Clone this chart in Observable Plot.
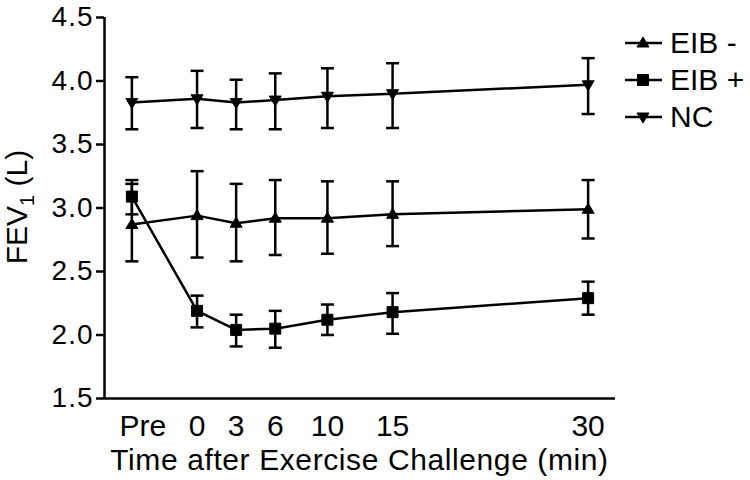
<!DOCTYPE html>
<html><head><meta charset="utf-8">
<script src="https://cdn.jsdelivr.net/npm/d3@7"></script>
<script src="https://cdn.jsdelivr.net/npm/@observablehq/plot@0.6"></script>
<style>
body{margin:0;background:#fff;}
#wrap{position:relative;width:750px;height:480px;font-family:"Liberation Sans",Arial,sans-serif;color:#000;}
#legend{position:absolute;left:623px;top:24px;}
.row{display:flex;align-items:center;height:37px;font-size:30px;line-height:37px;white-space:nowrap;}
.row svg{margin-right:7px;}
</style></head><body><div id="wrap"><div id="legend"></div></div>
<script>
// ---- data ----
const times = [-5, 0, 3, 6, 10, 15, 30];
const tickLabels = ["Pre", "0", "3", "6", "10", "15", "30"];
const seriesNames = ["EIB -", "EIB +", "NC"];
const yTicks = [1.5, 2.0, 2.5, 3.0, 3.5, 4.0, 4.5];

const eibNegMean = [2.87, 2.94, 2.88, 2.92, 2.92, 2.95, 2.99];
const eibNegHi   = [3.22, 3.29, 3.19, 3.22, 3.21, 3.21, 3.22];
const eibNegLo   = [2.58, 2.61, 2.58, 2.63, 2.64, 2.70, 2.76];

const eibPosMean = [3.09, 2.19, 2.04, 2.05, 2.12, 2.18, 2.29];
const eibPosHi   = [3.19, 2.31, 2.16, 2.19, 2.24, 2.33, 2.42];
const eibPosLo   = [2.95, 2.06, 1.91, 1.90, 2.00, 2.01, 2.16];

const ncMean = [3.83, 3.86, 3.83, 3.85, 3.88, 3.90, 3.97];
const ncHi   = [4.03, 4.08, 4.01, 4.06, 4.10, 4.14, 4.18];
const ncLo   = [3.62, 3.63, 3.62, 3.62, 3.63, 3.63, 3.74];

const xDomain = [-7.1, 32.1];
const yDomain = [1.5, 4.5];

// ---- build table ----
const means = [eibNegMean, eibPosMean, ncMean];
const his = [eibNegHi, eibPosHi, ncHi];
const los = [eibNegLo, eibPosLo, ncLo];
const rows = seriesNames.flatMap((s, k) => times.map((t, i) => ({
  series: s, t, mean: means[k][i], hi: his[k][i], lo: los[k][i]
})));

// ---- symbols ----
const symTriUp = {draw(c) {c.moveTo(0, -6); c.lineTo(6, 4); c.lineTo(-6, 4); c.closePath();}};
const symSquare = {draw(c) {c.rect(-5.5, -5.5, 11, 11);}};
const symTriDown = {draw(c) {c.moveTo(0, 6); c.lineTo(6, -4); c.lineTo(-6, -4); c.closePath();}};
const symCap = {draw(c) {c.moveTo(-6.5, 0); c.lineTo(6.5, 0);}};
const seriesSymbols = [symTriUp, symSquare, symTriDown];

const font = "Liberation Sans, Arial, sans-serif";
const lw = 2.5;

const chart = Plot.plot({
  width: 750,
  height: 480,
  marginLeft: 104,
  marginRight: 135,
  marginTop: 17,
  marginBottom: 82,
  style: {fontFamily: font, fontSize: "30px", background: "white", color: "black"},
  x: {domain: xDomain},
  y: {domain: yDomain},
  marks: [
    Plot.axisY({ticks: yTicks, tickFormat: d3.format(".1f"), tickSize: 8, tickPadding: 3, fontSize: 28, strokeWidth: lw, label: null}),
    Plot.axisX({ticks: times, tickFormat: d => tickLabels[times.indexOf(d)], tickSize: 0, tickPadding: 16, fontSize: 30, label: null}),
    Plot.ruleY([yDomain[0]], {stroke: "black", strokeWidth: lw}),
    Plot.ruleX([xDomain[0]], {stroke: "black", strokeWidth: lw}),
    Plot.line(rows, {x: "t", y: "mean", z: "series", stroke: "black", strokeWidth: lw}),
    Plot.ruleX(rows, {x: "t", y1: "lo", y2: "hi", stroke: "black", strokeWidth: lw}),
    Plot.dot(rows, {x: "t", y: "hi", symbol: symCap, stroke: "black", fill: "none", strokeWidth: lw}),
    Plot.dot(rows, {x: "t", y: "lo", symbol: symCap, stroke: "black", fill: "none", strokeWidth: lw}),
    ...seriesNames.map((s, k) => Plot.dot(rows, {
      filter: d => d.series === s, x: "t", y: "mean", symbol: seriesSymbols[k],
      fill: "black", stroke: "black", strokeWidth: 1
    }))
  ]
});

const svg = d3.select(chart);
// y tick labels: slightly wider spacing like the reference
svg.selectAll("g[aria-label='y-axis tick label'] text").style("letter-spacing", "1px");
// the "Pre" label sits a bit right of its point in the reference
svg.selectAll("g[aria-label='x-axis tick label'] text")
  .filter(function() { return this.textContent === "Pre"; })
  .attr("dx", 11);
// x-axis title
svg.append("text")
  .attr("x", (104 + 615) / 2).attr("y", 470)
  .attr("text-anchor", "middle")
  .attr("font-size", 30).attr("font-family", font).attr("fill", "black")
  .style("letter-spacing", "0.6px")
  .text("Time after Exercise Challenge (min)");
// y-axis title with subscript
const yt = svg.append("text")
  .attr("transform", "translate(27,207) rotate(-90)")
  .attr("text-anchor", "middle")
  .attr("font-size", 30).attr("font-family", font).attr("fill", "black");
yt.append("tspan").text("FEV");
yt.append("tspan").attr("font-size", 20).attr("dy", 7).text("1");
yt.append("tspan").attr("dy", -7).text(" (L)");

document.getElementById("wrap").prepend(chart);

// legend
const legend = d3.select("#legend");
seriesNames.forEach((s, k) => {
  const row = legend.append("div").attr("class", "row");
  const sv = row.append("svg").attr("width", 40).attr("height", 20);
  sv.append("line").attr("x1", 2).attr("x2", 39).attr("y1", 10).attr("y2", 10)
    .attr("stroke", "black").attr("stroke-width", lw);
  const p = d3.path(); seriesSymbols[k].draw(p);
  sv.append("path").attr("d", p.toString()).attr("transform", "translate(20,10)")
    .attr("fill", "black").attr("stroke", "black").attr("stroke-width", 1);
  row.append("span").text(s);
});
</script></body></html>
